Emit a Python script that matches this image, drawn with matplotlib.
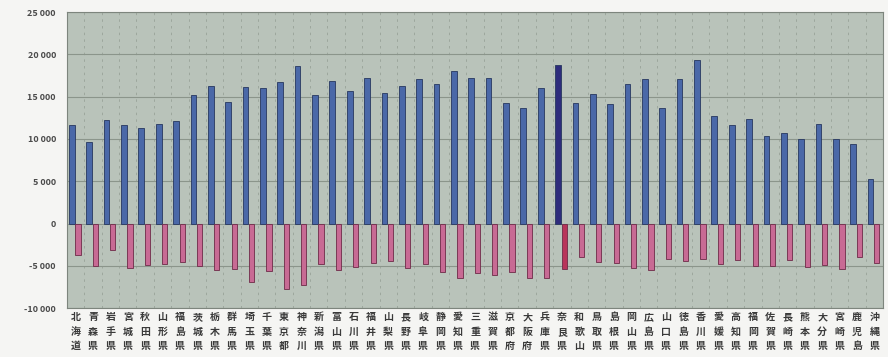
#!/usr/bin/env python3
# Prefecture bar chart: positive (blue) and negative (pink) values

from matplotlib import pyplot as plt
from matplotlib.ticker import FixedLocator, FuncFormatter
import numpy as np

plt.rcParams["font.family"] = ["Noto Sans CJK JP", "DejaVu Sans"]

################
#   DATA       #
################
prefectures = [
    "北海道", "青森県", "岩手県", "宮城県", "秋田県", "山形県", "福島県",
    "茨城県", "栃木県", "群馬県", "埼玉県", "千葉県", "東京都", "神奈川",
    "新潟県", "富山県", "石川県", "福井県", "山梨県", "長野県", "岐阜県",
    "静岡県", "愛知県", "三重県", "滋賀県", "京都府", "大阪府", "兵庫県",
    "奈良県", "和歌山", "鳥取県", "島根県", "岡山県", "広島県", "山口県",
    "徳島県", "香川県", "愛媛県", "高知県", "福岡県", "佐賀県", "長崎県",
    "熊本県", "大分県", "宮崎県", "鹿児島", "沖縄県",
]
positive = [
    11650, 9700, 12250, 11700, 11300, 11750, 12150,
    15200, 16250, 14400, 16100, 16000, 16700, 18650,
    15200, 16900, 15700, 17200, 15400, 16250, 17150,
    16500, 18000, 17250, 17200, 14300, 13700, 16050,
    18800, 14300, 15350, 14100, 16500, 17100, 13700,
    17100, 19350, 12750, 11650, 12350, 10350, 10650,
    9950, 11800, 10050, 9350, 5250,
]
negative = [
    -3750, -5050, -3150, -5250, -4950, -4750, -4550,
    -5050, -5500, -5400, -6900, -5600, -7700, -7300,
    -4750, -5500, -5100, -4650, -4400, -5250, -4750,
    -5700, -6500, -5800, -6100, -5700, -6400, -6450,
    -5400, -4000, -4500, -4700, -5200, -5450, -4150,
    -4400, -4150, -4800, -4300, -5000, -5000, -4300,
    -5100, -4850, -5400, -3950, -4650,
]
highlight = "奈良県"

fig = plt.figure(figsize=(8.88, 3.57), dpi=100)
fig.patch.set_facecolor("#f5f5f3")
ax = fig.add_axes([0.0755, 0.137, 0.919, 0.829])
ax.set_facecolor("#b9c3ba")

x = np.arange(len(prefectures))
pos_colors = ["#2e2c7c" if p == highlight else "#4a68a8" for p in prefectures]
neg_colors = ["#b8345a" if p == highlight else "#c86a94" for p in prefectures]

ax.bar(x - 0.22, positive, width=0.33, color=pos_colors,
       edgecolor="#27375f", linewidth=0.6, zorder=3)
ax.bar(x + 0.13, negative, width=0.3, color=neg_colors,
       edgecolor="#6e2a48", linewidth=0.6, zorder=3)

ax.set_xlim(-0.5, len(prefectures) - 0.5)
ax.set_ylim(-10000, 25000)
ax.yaxis.set_major_locator(FixedLocator(np.arange(-10000, 25001, 5000)))
ax.yaxis.set_major_formatter(FuncFormatter(
    lambda v, _: "{:,}".format(int(v)).replace(",", " ").replace("-", "-")))

ax.set_xticks(x)
ax.set_xticklabels(["\n".join(p) for p in prefectures], fontsize=7.2,
                   color="#3a3a3a", linespacing=1.55, fontweight="bold")
ax.xaxis.set_minor_locator(FixedLocator(x[:-1] + 0.5))
ax.tick_params(axis="both", which="both", length=0)
ax.tick_params(axis="x", pad=3)
ax.tick_params(axis="y", labelsize=6.5, labelcolor="#4a4a4a", pad=8)
for t in ax.get_yticklabels():
    t.set_fontweight("bold")

ax.grid(True, axis="y", which="major", color="#8b958b", linewidth=0.8, zorder=1)
ax.grid(True, axis="x", which="minor", color="#98a298", linewidth=0.6,
        linestyle=(0, (3, 5)), zorder=1)

for s in ax.spines.values():
    s.set_color("#7d857d")
    s.set_linewidth(0.8)

plt.savefig("out.png", dpi=100, facecolor=fig.get_facecolor())
